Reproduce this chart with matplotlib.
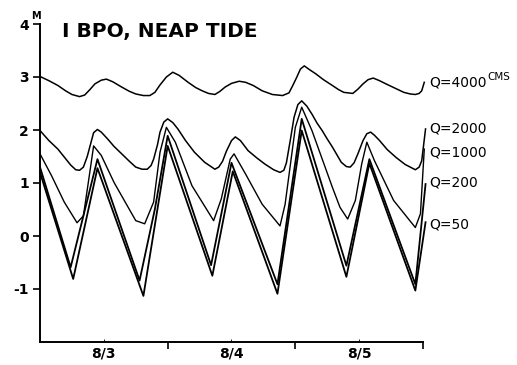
import matplotlib.pyplot as plt
import numpy as np

# time in days from start of 8/3, water level in m
t_4000 = [0.00, 0.07, 0.14, 0.20, 0.25, 0.31, 0.35, 0.39, 0.43, 0.48, 0.52, 0.57, 0.64, 0.70, 0.75,
          0.81, 0.86, 0.90, 0.94, 0.99, 1.04, 1.09, 1.16, 1.22, 1.27, 1.32, 1.37, 1.41, 1.45, 1.50,
          1.56, 1.61, 1.67, 1.74, 1.82, 1.90, 1.95, 1.98, 2.01, 2.04, 2.07, 2.11, 2.16, 2.22, 2.29,
          2.34, 2.38, 2.45, 2.49, 2.53, 2.57, 2.61, 2.66, 2.71, 2.78, 2.85, 2.90, 2.94, 2.97, 2.99,
          3.01]
h_4000 = [3.01, 2.93, 2.84, 2.74, 2.67, 2.63, 2.66, 2.76, 2.87, 2.94, 2.96, 2.91, 2.81, 2.73, 2.68,
          2.65, 2.65, 2.71, 2.85, 3.00, 3.09, 3.03, 2.90, 2.80, 2.74, 2.69, 2.67, 2.73, 2.81, 2.88,
          2.92, 2.90, 2.84, 2.74, 2.67, 2.65, 2.70, 2.84, 2.99, 3.15, 3.21, 3.14, 3.06, 2.95, 2.84,
          2.76, 2.71, 2.69, 2.77, 2.87, 2.95, 2.98, 2.93, 2.87, 2.79, 2.71, 2.68, 2.67, 2.69, 2.74,
          2.90]

t_2000 = [0.00, 0.07, 0.14, 0.20, 0.24, 0.28, 0.31, 0.34, 0.37, 0.40, 0.42, 0.45, 0.48, 0.53, 0.58,
          0.64, 0.70, 0.75, 0.80, 0.84, 0.87, 0.89, 0.92, 0.94, 0.97, 1.00, 1.04, 1.08, 1.14, 1.21,
          1.29, 1.37, 1.40, 1.43, 1.46, 1.50, 1.53, 1.57, 1.63, 1.70, 1.76, 1.83, 1.88, 1.91, 1.93,
          1.96, 1.99, 2.02, 2.05, 2.09, 2.13, 2.17, 2.21, 2.25, 2.29, 2.36, 2.40, 2.43, 2.46, 2.49,
          2.53, 2.56, 2.59, 2.62, 2.66, 2.72, 2.79, 2.86, 2.94, 2.97, 2.99, 3.02]
h_2000 = [1.99, 1.80, 1.64, 1.46, 1.34, 1.25, 1.24, 1.30, 1.50, 1.77, 1.95, 2.01, 1.96, 1.83, 1.69,
          1.55, 1.41, 1.30, 1.26, 1.26, 1.33, 1.45, 1.72, 1.96, 2.15, 2.21, 2.14, 2.02, 1.80, 1.58,
          1.39, 1.26, 1.30, 1.41, 1.60, 1.80, 1.87, 1.80, 1.61, 1.47, 1.36, 1.25, 1.20, 1.24, 1.38,
          1.80, 2.24, 2.48, 2.55, 2.45, 2.30, 2.13, 1.99, 1.83, 1.68, 1.39, 1.31, 1.30, 1.38, 1.55,
          1.80, 1.93, 1.96, 1.90, 1.80, 1.63, 1.48, 1.35, 1.25, 1.30, 1.42, 2.02]

t_1000 = [0.00, 0.09, 0.19, 0.29, 0.34, 0.39, 0.42, 0.48, 0.58, 0.75, 0.82, 0.89, 0.94, 0.99, 1.06,
          1.19, 1.36, 1.42, 1.49, 1.52, 1.61, 1.74, 1.88, 1.92, 2.00, 2.05, 2.13, 2.29, 2.35, 2.41,
          2.47, 2.52, 2.56, 2.62, 2.77, 2.94, 2.98, 3.01]
h_1000 = [1.55, 1.14, 0.64, 0.25, 0.38, 1.20, 1.70, 1.52, 1.01, 0.29, 0.23, 0.64, 1.58, 2.05, 1.77,
          0.95, 0.29, 0.70, 1.45, 1.55, 1.17, 0.60, 0.19, 0.60, 2.05, 2.43, 1.99, 0.92, 0.54, 0.32,
          0.67, 1.36, 1.77, 1.42, 0.67, 0.16, 0.42, 1.64]

t_200 = [0.00, 0.24, 0.45, 0.78, 0.90, 1.00, 1.34, 1.50, 1.86, 2.05, 2.40, 2.58, 2.94, 3.02]
h_200 = [1.30, -0.59, 1.45, -0.84, 0.51, 1.89, -0.55, 1.38, -0.91, 2.21, -0.56, 1.45, -0.91, 0.98]

t_50 = [0.00, 0.26, 0.45, 0.81, 1.00, 1.35, 1.51, 1.86, 2.05, 2.40, 2.58, 2.94, 3.02]
h_50 = [1.20, -0.81, 1.28, -1.13, 1.70, -0.75, 1.22, -1.09, 1.99, -0.77, 1.37, -1.03, 0.26]

series = [(t_4000, h_4000), (t_2000, h_2000), (t_1000, h_1000), (t_200, h_200), (t_50, h_50)]
labels = ['Q=4000', 'Q=2000', 'Q=1000', 'Q=200', 'Q=50']
label_y = [2.90, 2.02, 1.57, 1.00, 0.22]

day_pos = [0.5, 1.5, 2.5]
day_labels = ['8/3', '8/4', '8/5']

fig = plt.figure(figsize=(5.17, 3.65), dpi=100)
ax = fig.add_axes([40 / 517, 1 - 342 / 365, 383 / 517, 318 / 365])

for (t, h), lw in zip(series, [1.1, 1.1, 1.0, 1.3, 1.3]):
    ax.plot(t, h, color='black', lw=lw, clip_on=False)

ax.set_xlim(0, 3.0)
ax.set_ylim(-2, 4)
for s in ['top', 'right']:
    ax.spines[s].set_visible(False)
ax.spines['left'].set_linewidth(1.4)
ax.spines['bottom'].set_linewidth(1.4)

ax.set_yticks([-1, 0, 1, 2, 3, 4])
ax.set_yticklabels(['-1', '0', '1', '2', '3', '4'], fontsize=10, fontweight='bold')
ax.set_xticks([1, 2, 3])
ax.set_xticklabels([])
ax.set_xticks(day_pos, minor=True)
ax.set_xticklabels(day_labels, minor=True, fontsize=10, fontweight='bold')
ax.tick_params(axis='x', which='minor', length=2, direction='in', pad=3)
ax.tick_params(axis='x', which='major', length=5, width=1.2)
ax.tick_params(axis='y', length=5, width=1.2, pad=3)

ax.text(-0.07, 4.05, 'M', fontsize=7, fontweight='bold', ha='left', va='bottom')
ax.text(0.17, 3.85, 'I BPO, NEAP TIDE', fontsize=14.5, fontweight='bold', va='center')

for lab, y in zip(labels, label_y):
    txt = ax.text(3.05, y, lab, fontsize=10, va='center', clip_on=False)
    if lab == 'Q=4000':
        ax.annotate('CMS', xy=(1.0, 0.55), xycoords=txt, fontsize=7.5,
                    ha='left', va='bottom', annotation_clip=False)

fig.savefig('out.png', dpi=100)
